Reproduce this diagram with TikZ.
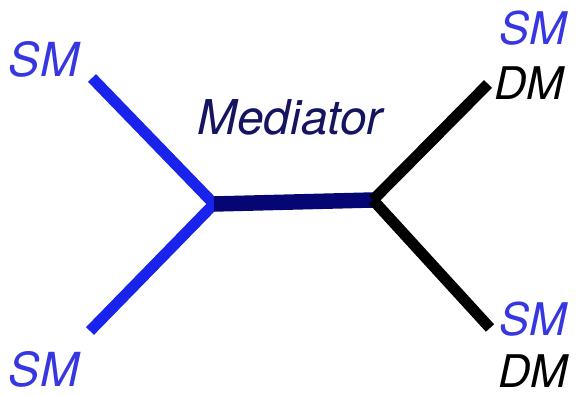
\documentclass[tikz,border=0pt]{standalone}
\usepackage{xcolor}
\usepackage{fontspec}
\setmainfont{TeX Gyre Heros}
\usepackage{tikz}
\usetikzlibrary{positioning}

\definecolor{smblue}{RGB}{25,35,235}
\definecolor{smtext}{RGB}{55,55,225}
\definecolor{medblue}{RGB}{5,5,115}
\definecolor{medtext}{RGB}{20,20,95}

\tikzset{
  leglabel/.style={anchor=base,inner sep=0pt,font=\fontsize{26.7}{32}\selectfont\itshape},
  outlabel/.style={anchor=base,inner sep=0pt,font=\fontsize{25.6}{30}\selectfont\itshape},
  smleg/.style={line width=6.3pt,color=smblue},
  dmleg/.style={line width=6.3pt,color=black},
  medline/.style={line width=8.8pt,color=medblue}
}

\begin{document}
\begin{tikzpicture}
        \useasboundingbox (0,0) rectangle (11.520,7.880);
        \clip (0,0) rectangle (11.520,7.880);
        \coordinate (VL) at (4.280,3.800);
        \coordinate (VR) at (7.460,3.880);
        \coordinate (SM1) at (1.840,6.320);
        \coordinate (SM2) at (1.800,1.260);
        \coordinate (X1) at (9.760,6.200);
        \coordinate (X2) at (9.800,1.320);

        \draw[smleg] (SM1) -- (VL);
        \draw[smleg] (SM2) -- (VL);
        \draw[medline] (VL) -- (VR);
        \draw[dmleg] (VR) -- (X1);
        \draw[dmleg] (VR) -- (X2);

        \node[leglabel,text=smtext] (in1) at (0.880,6.340) {SM};
        \node[leglabel,text=smtext] (in2) at (0.880,0.160) {SM};
        \node[anchor=base,inner sep=0pt,text=medtext,font=\fontsize{27.3}{32}\selectfont\itshape] (med) at (5.800,5.180) {Mediator};
        \node[outlabel,text=smtext] (out1) at (10.660,6.980) {SM};
        \node[outlabel,text=black] (out1dm) at (10.580,5.880) {DM};
        \node[outlabel,text=smtext] (out2) at (10.660,1.180) {SM};
        \node[outlabel,text=black] (out2dm) at (10.660,0.130) {DM};
\end{tikzpicture}
\end{document}
